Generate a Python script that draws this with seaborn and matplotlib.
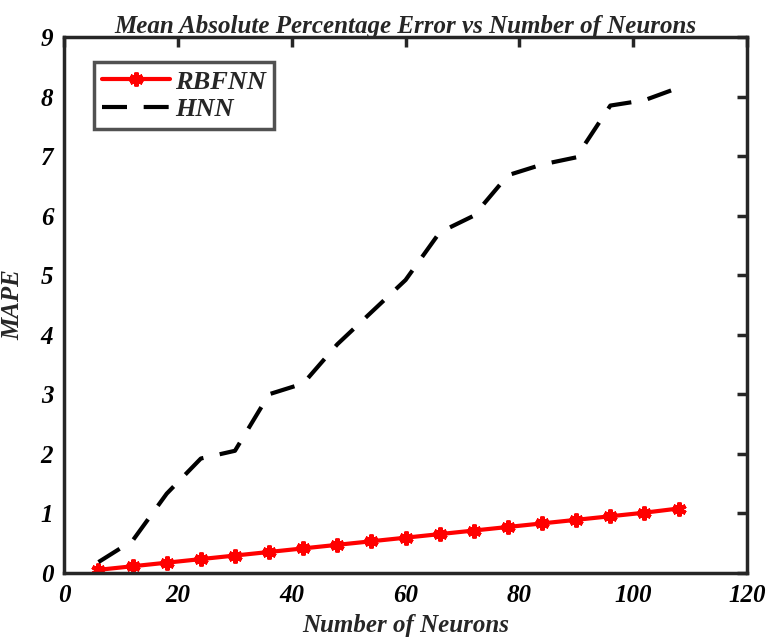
import numpy as np
import pandas as pd
import matplotlib
matplotlib.use("Agg")
import matplotlib.pyplot as plt
import seaborn as sns

# Daten
neurons = [6, 12, 18, 24, 30, 36, 42, 48, 54, 60, 66, 72, 78, 84, 90, 96, 102, 108]
mape_rbfnn = [0.05, 0.11, 0.17, 0.23, 0.29, 0.35, 0.41, 0.47, 0.53, 0.59,
              0.65, 0.71, 0.77, 0.83, 0.89, 0.95, 1.01, 1.08]
mape_hnn = [0.18, 0.54, 1.33, 1.92, 2.05, 3.0, 3.18, 3.84, 4.38, 4.92,
            5.72, 6.0, 6.68, 6.86, 6.98, 7.85, 7.94, 8.15]

df = pd.DataFrame({"neurons": neurons, "RBFNN": mape_rbfnn, "HNN": mape_hnn})

sns.set_style("white")
plt.rcParams["font.family"] = ["Liberation Serif", "DejaVu Serif"]
plt.rcParams["font.weight"] = "bold"
plt.rcParams["font.style"] = "italic"

fig = plt.figure(figsize=(7.66, 6.4), dpi=100)
ax = fig.add_axes([0.084, 0.105, 0.891, 0.837])

sns.lineplot(data=df, x="neurons", y="RBFNN", ax=ax, color="red", linewidth=3,
             marker=(6, 2, 0), markersize=10, markeredgewidth=3, markeredgecolor="red",
             label="RBFNN")
sns.lineplot(data=df, x="neurons", y="HNN", ax=ax, color="black", linewidth=3,
             label="HNN")
ax.lines[1].set_dashes([6, 4])

ax.set_xlim(0, 120)
ax.set_ylim(0, 9)
ax.set_xticks(range(0, 121, 20))
ax.set_yticks(range(0, 10))

for sp in ax.spines.values():
    sp.set_linewidth(2.5)
    sp.set_color("#262626")
ax.tick_params(direction="in", length=7, width=2.5, top=True, right=True,
               labelsize=18, pad=8, colors="#262626")
for lab in ax.get_xticklabels() + ax.get_yticklabels():
    lab.set_fontweight("bold")
    lab.set_fontstyle("italic")
    lab.set_color("black")

ax.set_title("Mean Absolute Percentage Error vs Number of Neurons",
             fontsize=18, fontweight="bold", style="italic", pad=3)
ax.set_xlabel("Number of Neurons", fontsize=18, fontweight="bold", style="italic", labelpad=5)
ax.set_ylabel("MAPE", fontsize=18, fontweight="bold", style="italic", labelpad=12)

leg = ax.legend(loc="upper left", bbox_to_anchor=(0.043, 0.953), fontsize=19,
                frameon=True, fancybox=False, borderpad=0.3, handlelength=2.6,
                handletextpad=0.2, labelspacing=0.15, borderaxespad=0)
leg.get_frame().set_edgecolor("#262626")
leg.get_frame().set_linewidth(2.5)
for t in leg.get_texts():
    t.set_fontweight("bold")
    t.set_fontstyle("italic")

fig.savefig("out.png", dpi=100)
